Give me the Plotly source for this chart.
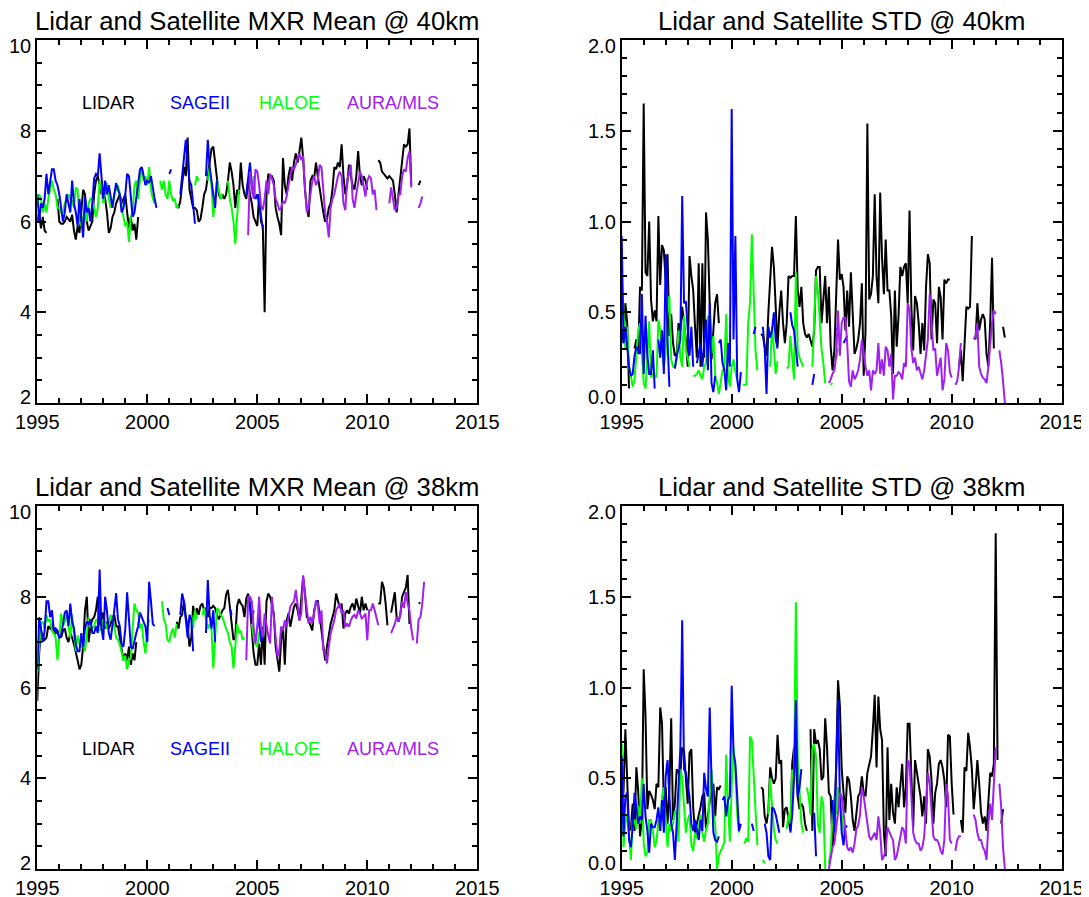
import plotly.graph_objects as go

N = None
# ---------------- categories / labels ----------------
instruments = ["LIDAR", "SAGEII", "HALOE", "AURA/MLS"]
inst_colors = ["#000000", "#0000FF", "#00FF00", "#A020F0"]
titles = ["Lidar and Satellite MXR Mean @ 40km", "Lidar and Satellite STD @ 40km",
          "Lidar and Satellite MXR Mean @ 38km", "Lidar and Satellite STD @ 38km"]
x_ticks = [1995, 2000, 2005, 2010, 2015]
mean_ticks = [2, 4, 6, 8, 10]
std_ticks = [0.0, 0.5, 1.0, 1.5, 2.0]

# series start (year, month) ; values are monthly
start_1995 = (1995, 1)
start_mls_m40 = (2004, 8)
start_mls_s = (2004, 6)
start_mls_m38 = (2004, 7)

# ================= MXR Mean @ 40km =================
lidar_m40 = [
 6.0, 6.2, 5.85, 6.1, 5.8, 5.75, N, N, N, N, N, 6.5,
 6.0, 5.95, 5.95, 6.0, 6.1, 6.05, 6.0, 6.15, 5.8, 5.6, 5.9, 5.75,
 6.3, 6.7, 6.6, 6.0, 5.8, 5.9, 6.0, 6.6, 6.9, 7.0, 6.8, 6.6,
 6.7, 6.5, 6.2, 5.75, 5.85, 6.1, 6.2, 6.4, 6.5, 6.6, 6.4, 6.5,
 6.6, 6.2, 5.85, 6.1, 5.8, 5.95, 5.6, 6.1, N, N, N, N,
 N, N, N, N, N, N, N, N, N, N, N, N,
 N, N, N, N, 6.35, 6.3, 6.45, 6.8, 7.2, 7.0, 7.85, 6.7,
 6.5, 6.3, 6.3, 6.25, 6.0, 6.05, 6.3, 6.6, 6.7, 7.0, 7.2, 7.6,
 7.65, 7.3, 6.9, 6.6, 6.5, 6.6, 6.5, 6.6, 6.9, 7.3, 7.1, 6.8,
 6.3, 6.7, 6.6, 7.3, 6.8, 6.6, 6.5, 6.9, 6.6, 6.4, 6.1, 6.0,
 5.9, 6.6, 6.0, 5.9, 4.0, 6.6, 7.05, 7.0, 7.0, 6.9, 6.3, 6.1,
 5.95, 5.7, 7.4, 6.8, 6.6, 7.0, 7.2, 6.9, 7.3, 7.5, 7.3, 7.55,
 7.85, 7.4, 6.7, 6.3, 6.1, 6.9, 7.0, 6.95, 7.3, 7.0, 6.7, 6.4,
 6.2, 6.0, 6.05, 6.3, 6.4, 6.7, 7.2, 7.15, 7.3, 7.2, 7.7, 7.0,
 6.6, 6.8, 7.25, 7.0, 6.8, 6.7, 7.0, 7.55, 7.0, 6.8, 7.0, 6.9,
 6.7, N, N, N, N, N, 7.35, 7.3, 7.1, 7.05, 7.0, 6.95,
 7.0, 6.95, 6.9, 6.6, 6.2, 6.6, 7.0, 7.45, 7.7, 7.65, 7.7, 8.05,
 6.8, N, N, N, 6.8, 6.9]
sage_m40 = [
 6.6, 6.0, 6.4, 6.3, 6.5, 7.05, 6.6, 6.9, 7.15, 7.15, 6.9, 6.8,
 6.6, 6.3, 6.0, 6.2, 6.6, 6.4, 6.2, 6.9, 6.4, 6.2, 5.9, 6.5,
 6.0, 5.65, 6.55, 6.2, 6.3, 6.0, 6.4, 6.95, 7.05, 7.0, 7.5, 6.9,
 6.5, 6.9, 6.6, 6.8, 6.5, 6.3, 6.6, 6.85, 6.7, 6.6, 6.2, 6.3,
 6.6, 7.05, 7.0, 6.6, 6.1, 6.2, 6.5, 6.9, 7.15, 7.2, 7.0, 6.8,
 6.9, 6.85, 7.0, 6.7, 6.5, 6.3, N, N, N, N, N, N,
 7.05, 7.15, N, N, N, N, 6.6, 7.0, 7.4, 7.8, 7.3, 6.9,
 6.8, 6.3, 5.95, N, N, N, N, N, 7.0, 7.8, 7.2, 6.9,
 6.6, 6.3, 6.9, N, N, N, N, N, N, N, N, N,
 N, N, N, N, N, N, 6.6, 7.0, 7.3, 6.8, 6.6, 6.5,
 6.6, 6.4, 6.1, 5.85]
haloe_m40 = [
 6.3, 6.6, 6.5, 6.2, 6.4, 6.2, 6.5, 6.7, 6.9, 6.7, 6.6, 6.3,
 6.3, 6.2, 6.2, 6.4, 6.5, 6.6, 6.5, 6.45, 6.3, 6.75, 6.7, 6.0,
 5.9, 6.1, 6.3, 6.0, 6.4, 6.5, 6.5, 6.3, 6.1, 6.3, 6.9, 6.7,
 6.4, 6.6, 6.85, 6.5, 6.3, 6.4, 6.6, 6.7, 6.8, 6.6, 6.3, 6.1,
 5.9, 6.0, 5.55, 6.1, 6.2, 6.8, 6.9, 6.5, 6.9, 7.2, 6.9, 7.0,
 6.8, 7.2, 6.7, 6.5, 6.4, N, N, 6.9, 6.7, 6.9, 6.6, 6.5,
 6.9, 6.6, 6.45, 6.5, 6.3, 6.35, N, N, N, N, N, N,
 N, N, 6.8, 7.0, 6.9, N, N, N, N, 6.9, 7.2, 6.8,
 6.1, 6.5, 6.9, 6.7, 6.5, 6.6, N, N, 6.9, 6.5, 6.3, 6.0,
 5.5, 6.2, 6.7, N, N, N, N, N, N, 6.6, 7.0, 6.6,
 6.5, 6.45]
mls_m40 = [
 5.7, 7.1, 6.85, 6.5, 7.15,
 7.1, 6.8, 6.35, 6.25, 6.5, 6.9, 6.6, 7.05, 6.95, 6.8, 6.5, 6.4,
 6.25, 6.3, 6.45, 6.4, 6.55, 6.8, 7.0, 7.2, 7.15, 7.25, 7.4, 7.5,
 7.35, 7.45, 6.75, 6.2, 6.3, 6.6, 6.9, 7.0, 6.8, 6.9, 7.25, 7.2,
 6.7, 6.2, 6.0, 5.65, 6.3, 6.5, 6.6, 6.8, 7.0, 7.1, 7.0, 6.4,
 6.25, 6.9, 7.05, 7.25, 6.5, 6.3, 6.6, 6.9, 7.1, 7.0, 6.8, 6.55,
 6.9, 7.0, 6.95, 6.6, 6.7, 6.25, N, N, N, N, N, N,
 6.4, 6.75, 6.5, 6.25, 6.3, 6.6, 6.6, 7.0, 7.15, 7.1, 7.4, 7.55,
 6.75, N, N, N, 6.3, 6.4, 6.55]

# ================= STD @ 40km =================
lidar_s40 = [
 0.4, 0.33, 0.55, 0.44, 0.08, N, N, 0.3, 0.35, 0.27, 0.64, 0.62,
 1.65, 0.72, 0.7, 1.0, 0.57, 0.45, 0.51, 0.45, 1.03, 0.65, 0.87, 0.84,
 0.67, 0.82, 0.37, 0.49, 0.33, 0.26, 0.27, 0.44, 0.4, 0.53, 0.45, 0.35,
 0.2, 0.81, 0.7, 0.62, 0.42, 0.25, 0.77, 0.2, 0.77, 0.25, 1.05, 0.9,
 0.55, 0.24, 0.4, 0.55, 0.6, 0.44, N, N, N, N, N, N,
 N, N, N, N, N, N, N, N, N, N, N, N,
 N, N, N, N, 0.38, 0.37, 0.31, 0.26, 0.5, 0.7, 0.86, 0.75,
 0.55, 0.31, 0.5, 0.62, 0.44, 0.33, 0.44, 0.7, 0.69, 0.7, 0.7, 1.03,
 0.62, 0.53, 0.64, 0.44, 0.38, 0.36, 0.38, 0.35, 0.31, 0.4, 0.73, 0.75,
 0.75, 0.44, 0.6, 0.7, 0.44, 0.64, 0.31, 0.18, 0.29, 0.55, 0.9, 0.68,
 0.71, 0.64, 0.4, 0.62, 0.42, 0.72, 0.44, 0.27, 0.3, 0.35, 0.44, 0.66,
 0.15, 0.4, 1.54, 0.57, 0.6, 0.7, 1.15, 0.7, 0.55, 1.16, 0.8, 0.6,
 0.9, 0.62, 0.62, 0.48, 0.16, 0.62, 0.31, 0.48, 0.75, 0.7, 0.75, 0.77,
 0.55, 1.06, 0.53, 0.29, 0.59, 0.55, 0.44, 0.27, 0.44, 0.29, 0.64, 0.82,
 0.77, 0.35, 0.57, 0.55, 0.33, 0.64, 0.58, 0.35, 0.68, 0.66, 0.68, 0.68,
 N, N, N, N, 0.2, 0.29, 0.12, 0.35, 0.53, 0.52, 0.53, 0.92,
 N, 0.35, 0.55, 0.4, 0.46, 0.49, 0.46, 0.27, 0.2, 0.44, 0.8, 0.3,
 N, N, N, N, 0.42, 0.36]
sage_s40 = [
 0.92, 0.33, 0.42, 0.3, 0.2, 0.15, 0.16, 0.26, 0.31, 0.29, 0.27, 0.6,
 0.16, 0.48, 0.26, 0.16, 0.16, 0.29, 0.08, N, 0.35, 0.25, 0.4, 0.16,
 0.82, 0.35, 0.09, N, N, 0.19, 0.26, 0.3, 0.35, 1.14, 0.55, 0.56,
 0.42, 0.26, 0.42, 0.2, N, 0.22, 0.27, 0.33, 0.2, 0.31, 0.46, 0.18,
 0.55, 0.11, 0.06, 0.15, N, 0.33, 0.35, 0.22, 0.18, 0.07, 0.33, 0.2,
 1.62, 0.35, 0.92, 0.13, 0.06, 0.17, N, N, N, N, N, N,
 0.38, 0.42, N, N, N, 0.42, 0.3, 0.05, 0.42, 0.36, 0.4, 0.5,
 0.35, 0.3, N, N, N, N, N, N, 0.5, 0.43, 0.4, 0.3,
 0.2, N, N, N, N, N, N, N, 0.1, 0.16, N, N,
 N, N, N, N, N, N, N, N, N, 0.4, 0.42, N,
 N, 0.33, 0.35, 0.37]
haloe_s40 = [
 0.69, 0.45, 0.3, 0.42, 0.2, 0.15, 0.09, 0.13, 0.27, 0.4, 0.44, 0.25,
 0.11, 0.08, 0.27, 0.45, 0.14, 0.16, 0.15, 0.14, 0.46, 0.4, 0.29, 0.2,
 0.27, 0.5, 0.59, 0.24, 0.2, 0.2, 0.24, 0.4, 0.25, 0.2, 0.48, 0.29,
 0.25, 0.2, N, 0.15, 0.15, 0.16, 0.18, 0.15, 0.13, 0.2, 0.22, 0.48,
 0.44, 0.27, 0.37, 0.15, 0.11, 0.05, 0.13, 0.18, 0.18, 0.49, 0.15, 0.09,
 0.2, 0.24, 0.17, 0.13, N, N, 0.1, 0.1, 0.1, 0.44, 0.55, 0.93,
 0.59, 0.29, 0.18, N, N, N, 0.0, N, N, 0.2, 0.42, 0.3,
 0.16, 0.23, N, N, N, N, 0.19, 0.2, 0.37, 0.25, 0.13, 0.72,
 0.29, 0.25, 0.22, 0.2, N, N, N, N, 0.2, 0.45, 0.7, 0.62,
 0.44, 0.3, 0.22, 0.11, N, N, 0.1, 0.11, N, 0.25, 0.3]
mls_s40 = [
 0.11, 0.13, 0.16, 0.18, 0.26, 0.51, 0.26,
 0.44, 0.47, 0.47, 0.33, 0.12, 0.09, 0.18, 0.13, 0.15, 0.18, 0.24, 0.35,
 0.27, 0.2, 0.15, 0.18, 0.07, 0.18, 0.16, 0.18, 0.33, 0.16, 0.24, 0.15,
 0.31, 0.29, 0.2, 0.27, 0.02, 0.15, 0.15, 0.17, 0.16, 0.13, 0.22, 0.2,
 0.55, 0.51, 0.3, 0.22, 0.25, 0.18, 0.2, 0.16, 0.13, 0.18, 0.27, 0.35,
 0.6, 0.44, 0.29, 0.3, 0.15, 0.2, 0.25, 0.07, 0.13, 0.33, 0.29, 0.17,
 0.14, N, 0.1, 0.12, 0.2, 0.33, N, N, N, N, N, N,
 0.35, 0.37, 0.44, 0.2, 0.16, 0.14, 0.13, 0.11, 0.2, 0.35, 0.44, 0.51,
 0.49, N, 0.29, 0.22, 0.12, 0.0]

# ================= MXR Mean @ 38km =================
lidar_m38 = [
 5.7, 6.75, 7.25, 7.1, 7.05, 7.1, 7.35, 7.3, 7.4, 7.25, 7.2, 7.25,
 7.15, 7.1, 7.25, 7.3, 7.1, 7.0, 7.2, 7.1, 6.95, 6.8, 6.6, 6.4,
 6.5, 6.9, 7.7, 8.0, 7.0, 7.35, 7.5, 7.55, 7.7, 8.0, 7.35, 7.5,
 7.65, 7.3, 7.45, 7.3, 7.4, 7.55, 7.6, 7.35, 7.35, 7.1, 6.8, 6.6,
 6.75, 6.6, 6.9, 6.5, 6.75, 6.6, 7.0, N, N, N, N, N,
 N, N, N, N, N, N, N, N, N, N, N, N,
 N, N, N, N, 7.45, 7.3, 7.55, 7.6, 7.9, 7.55, 7.35, 6.9,
 7.1, 7.8, 7.55, 7.75, 7.6, 7.8, 7.85, 7.7, 7.75, 7.55, 7.75, 7.75,
 7.8, 7.75, 7.6, 7.5, 7.6, 7.7, 7.75, 8.05, 8.15, 7.75, 7.3, 7.05,
 7.1, 7.8, 7.95, 7.85, 7.8, 7.55, 7.96, 8.07, 7.78, 7.33, 6.75, 6.5,
 6.5, 6.97, 6.5, 7.34, 6.5, 7.9, 8.07, 8.0, 7.8, 7.63, 6.9, 6.6,
 6.35, 7.04, 7.34, 6.5, 7.48, 7.63, 7.34, 7.56, 7.78, 7.85, 7.7, 7.48,
 7.92, 8.44, 8.07, 7.56, 7.48, 7.34, 7.26, 7.7, 7.85, 7.92, 7.56, 7.2,
 6.9, 6.6, 6.9, 7.2, 7.4, 7.55, 7.7, 8.07, 7.9, 7.75, 7.85, 7.3,
 7.63, 7.7, 7.63, 7.78, 7.85, 7.7, 7.96, 7.78, 7.63, 8.0, 7.7, 7.85,
 7.7, N, N, N, N, N, 7.85, 7.85, 8.33, 8.2, 7.85, 7.37,
 N, 7.65, 7.85, 8.1, 7.55, 7.45, 7.6, 8.0, 8.1, 8.2, 8.48, 7.4,
 N, N, N, N, 7.87, 7.85]
sage_m38 = [
 6.4, 7.55, 7.3, 7.0, 7.25, 7.9, 7.9, 7.55, 7.7, 7.25, 7.3, 7.2,
 7.1, 7.15, 7.4, 7.65, 7.7, 7.35, 7.85, 7.45, 7.3, 6.95, 6.8, 6.8,
 7.2, 6.9, 7.3, 7.45, 7.4, 7.5, 7.2, 7.2, 7.35, 7.2, 8.6, 7.3,
 7.05, 8.0, 7.7, 7.2, 7.05, 7.35, 7.7, 8.08, 7.5, 7.35, 6.95, 6.9,
 7.3, 8.1, 7.6, 6.9, 6.85, 7.05, 7.2, 7.35, 7.65, 7.55, 7.45, 7.34,
 7.0, 8.33, 7.9, 7.4, 7.35, N, N, N, N, N, N, 7.75,
 7.6, N, N, N, N, N, 7.6, 8.07, 7.9, 7.4, 7.1, 7.6,
 7.5, 6.8, N, N, N, N, N, N, 7.2, 8.37, 7.6, 7.3,
 7.7, 7.0, N, N, N, N, N, N, N, 7.75, 7.6, N,
 N, N, N, N, N, N, N, N, 7.9, 7.5, 7.7, N,
 7.3, 7.6, 7.0, 7.2]
haloe_m38 = [
 6.35, 7.0, 7.4, 7.45, 7.3, 7.6, 7.45, 7.5, 7.25, 7.2, 7.1, 6.6,
 7.1, 7.63, 7.35, 7.45, 7.6, 7.3, 7.1, 7.6, 7.25, 6.8, 7.15, 6.95,
 6.9, 6.95, 6.8, 7.25, 7.55, 7.35, 7.3, 7.35, 7.5, 7.45, 7.25, 7.3,
 7.5, 7.45, 7.3, 7.4, 7.6, 7.5, 7.35, 7.1, 7.05, 6.95, 6.8, 6.6,
 6.7, 6.4, 6.6, 6.65, 7.3, 7.85, 7.7, 7.65, 7.3, 7.4, 7.0, 6.75,
 7.3, 7.5, N, N, N, N, N, N, 7.9, 7.5, 7.4, 7.05,
 7.0, 7.2, 7.3, 7.1, 7.4, N, N, N, N, N, N, N,
 7.6, 7.3, 7.7, 7.5, N, N, 7.6, 7.75, 7.5, 7.3, 7.4, 7.3,
 6.42, 7.0, 7.75, 7.7, 7.6, 7.55, 7.4, 7.3, 7.2, 7.0, 6.9, 6.42,
 6.9, 7.4, 7.2, 7.25, 7.05, 7.1, N, N, N, 7.4, 7.1, 6.95,
 6.9, 7.2, 7.3]
mls_m38 = [
 6.6, 8.0, 8.0, 7.9, 7.33, 6.97,
 7.33, 8.0, 7.33, 7.1, 7.63, 7.33, 7.15, 6.97, 8.0, 7.56, 7.19, 6.68,
 6.82, 7.34, 7.26, 7.48, 7.34, 7.56, 7.78, 7.85, 7.9, 8.15, 7.85, 7.48,
 7.63, 8.47, 8.07, 7.78, 7.41, 7.56, 7.41, 7.63, 7.92, 7.85, 7.41, 7.7,
 6.82, 6.75, 6.53, 6.9, 7.19, 7.34, 7.48, 7.7, 7.78, 7.85, 7.63, 7.7,
 7.33, 7.41, 7.34, 7.48, 7.56, 7.6, 7.52, 7.7, 7.63, 7.52, 7.56, 7.63,
 7.04, 7.7, 7.7, 7.85, 7.7, 7.55, 7.37, N, N, N, N, N,
 N, 7.2, 7.3, 7.4, 7.55, 7.45, 7.6, 7.9, 7.75, 8.1, 7.85, 7.7,
 7.3, 7.04, N, 6.97, 7.5, 7.55, 7.85, 8.33]

# ================= STD @ 38km =================
lidar_s38 = [
 0.3, 0.43, 0.77, 0.47, 0.21, 0.22, 0.36, 0.21, 0.56, 0.43, 0.18, 0.27,
 1.1, 0.84, 0.33, 0.43, 0.41, 0.38, 0.33, 0.47, 0.45, 0.89, 0.8, 0.34,
 0.45, 0.25, 0.43, 0.83, 0.27, 0.36, 0.55, 0.53, 0.53, 0.67, 0.65, 0.5,
 0.36, 0.64, 0.66, 0.34, 0.2, 0.25, 0.29, 0.34, 0.4, 0.42, 0.21, 0.29,
 0.38, 0.45, 0.47, 0.29, 0.45, 0.44, 0.46, N, N, N, N, N,
 N, N, N, N, N, N, N, N, N, N, N, N,
 N, N, N, N, 0.45, 0.44, 0.29, 0.25, 0.32, 0.56, 0.5, 0.47,
 0.5, 0.74, 0.58, 0.6, 0.23, 0.33, 0.34, 0.27, 0.21, 0.58, 0.67, 0.6,
 0.4, 0.33, 0.36, 0.34, 0.25, 0.21, N, 0.77, 0.21, 0.77, 0.69, 0.71,
 0.66, 0.49, 0.51, 0.83, 0.67, 0.42, 0.4, 0.12, 0.25, 0.58, 1.04, 0.9,
 0.55, 0.42, 0.31, 0.51, 0.49, 0.4, 0.27, 0.21, 0.29, 0.4, 0.42, 0.51,
 0.42, 0.4, 0.53, 0.58, 0.62, 0.77, 0.96, 0.56, 0.95, 0.77, 0.71, 0.2,
 0.07, 0.67, 0.27, 0.47, 0.31, 0.25, 0.45, 0.34, 0.47, 0.58, 0.34, 0.45,
 0.8, 0.8, 0.51, 0.23, 0.6, 0.53, 0.47, 0.4, 0.29, 0.4, 0.25, 0.66,
 0.62, 0.49, 0.25, 0.42, 0.47, 0.58, 0.6, 0.56, 0.49, 0.34, 0.74, 0.73,
 0.47, 0.3, N, N, N, 0.27, 0.2, 0.56, 0.54, 0.75, 0.67, 0.55,
 0.33, 0.45, 0.6, 0.47, 0.31, 0.25, 0.29, 0.21, 0.38, 0.53, 0.51, 0.58,
 1.85, 0.6, N, 0.25, 0.33]
sage_s38 = [
 0.62, 0.18, 0.4, 0.42, 0.16, 0.12, 0.23, 0.42, 0.34, 0.25, 0.29, 0.27,
 0.47, 0.29, 0.21, 0.09, 0.25, 0.23, 0.23, 0.27, 0.34, 0.21, 0.38, 0.2,
 0.51, 0.6, 0.4, 0.25, 0.2, 0.05, 0.25, 0.49, 0.67, 1.37, 0.55, 0.53,
 0.47, 0.4, 0.25, 0.21, 0.27, 0.21, 0.16, 0.27, 0.21, 0.53, 0.44, 0.4,
 0.89, 0.49, 0.2, 0.16, 0.15, 0.18, N, 0.38, 0.4, 0.29, 0.38, 0.4,
 1.01, 0.64, 0.58, 0.4, 0.21, 0.25, N, N, N, N, N, 0.25,
 0.21, N, N, N, N, N, 0.25, 0.2, 0.07, 0.05, 0.34, 0.33,
 0.3, 0.25, 0.2, N, N, N, N, N, 0.2, 0.3, 0.5, 0.93,
 0.4, 0.45, 0.55, N, N, N, N, N, N, 0.31, 0.07, N,
 N, N, N, N, N, N, N, 0.38, 0.2, 0.56, 0.93, 0.4,
 0.2, 0.13, 0.24, 0.23]
haloe_s38 = [
 0.69, 0.12, 0.25, 0.3, 0.2, 0.05, 0.27, 0.27, 0.22, 0.35, 0.25, 0.5,
 0.14, 0.07, 0.09, 0.27, 0.27, 0.21, 0.12, 0.15, 0.27, 0.21, 0.4, 0.45,
 0.27, 0.12, 0.25, 0.21, 0.25, 0.32, 0.3, 0.15, 0.55, 0.5, 0.35, 0.2,
 0.27, 0.3, 0.13, 0.1, 0.2, 0.17, 0.23, 0.3, 0.2, 0.15, 0.22, 0.25,
 0.4, 0.55, 0.3, 0.25, 0.0, 0.07, 0.1, 0.12, 0.15, 0.63, 0.35, 0.15,
 0.45, 0.67, 0.55, 0.3, 0.2, N, N, 0.14, 0.17, 0.15, 0.73, 0.71,
 0.49, 0.3, 0.13, N, N, 0.05, 0.03, N, 0.3, 0.5, 0.35, 0.22,
 0.16, 0.14, N, N, N, N, 0.22, 0.3, 0.25, 0.55, 0.5, 1.47,
 0.62, 0.44, 0.25, 0.2, N, 0.45, 0.4, 0.3, 0.66, 0.69, 0.62, 0.25,
 0.2, 0.4, 0.35, 0.0, N, 0.03, 0.1, 0.3, 0.4, 0.3, 0.45, 0.36,
 0.3, 0.2]
mls_s38 = [
 0.0, 0.07, 0.12, 0.14, 0.22, 0.31, 0.42,
 0.4, 0.31, 0.23, 0.12, 0.1, 0.12, 0.09, 0.14, 0.22, 0.24, 0.3, 0.45,
 0.4, 0.33, 0.27, 0.18, 0.16, 0.18, 0.2, 0.16, 0.29, 0.2, 0.05, 0.07,
 0.1, 0.23, 0.2, 0.18, 0.16, 0.05, 0.07, 0.12, 0.16, 0.23, 0.21, 0.14,
 0.6, 0.58, 0.4, 0.2, 0.16, 0.14, 0.14, 0.1, 0.12, 0.18, 0.35, 0.53,
 0.47, 0.32, 0.18, 0.16, 0.16, 0.14, 0.1, 0.08, 0.16, 0.47, 0.4, 0.16,
 0.14, N, 0.1, 0.16, 0.18, 0.18, N, N, N, N, N, N,
 0.3, 0.27, 0.2, 0.16, 0.16, 0.12, 0.1, 0.05, 0.25, 0.36, 0.27, 0.44,
 0.67, N, 0.47, 0.34, 0.12, 0.0]

# legend-label anchor positions (data coords)
legend_years = [1998.25, 2002.39, 2006.45, 2011.19]
legend_y_top = 8.62
legend_y_bottom = 4.64

# ---------------- layout geometry ----------------
W, H = 1089, 897
PAGE_OFF = 8  # default body margin of the html page
col_px = [(37.3, 477.3), (621.7, 1061.7)]
row_px = [(40.0, 403.0), (506.0, 869.0)]


def xdom(c):
    return [(col_px[c][0] - PAGE_OFF) / W, (col_px[c][1] - PAGE_OFF) / W]


def ydom(r):
    return [1 - (row_px[r][1] - PAGE_OFF) / H, 1 - (row_px[r][0] - PAGE_OFF) / H]


def monthly_x(start, n):
    y0, m0 = start
    return [y0 + (m0 - 1 + i) / 12.0 for i in range(n)]


FONT = "Liberation Sans, Arial, Helvetica, sans-serif"

fig = go.Figure()

panels = [
    ("", 0, 0, [(lidar_m40, start_1995), (haloe_m40, start_1995), (sage_m40, start_1995), (mls_m40, start_mls_m40)], False),
    ("2", 0, 1, [(lidar_s40, start_1995), (haloe_s40, start_1995), (sage_s40, start_1995), (mls_s40, start_mls_s)], True),
    ("3", 1, 0, [(lidar_m38, start_1995), (haloe_m38, start_1995), (sage_m38, start_1995), (mls_m38, start_mls_m38)], False),
    ("4", 1, 1, [(lidar_s38, start_1995), (haloe_s38, start_1995), (sage_s38, start_1995), (mls_s38, start_mls_s)], True),
]
series_colors = [inst_colors[0], inst_colors[2], inst_colors[1], inst_colors[3]]

layout = dict(width=W, height=H, margin=dict(l=0, r=0, t=0, b=0),
              paper_bgcolor="white", plot_bgcolor="white", showlegend=False,
              font=dict(family=FONT, color="black"))
annotations = []

for k, (suf, r, c, series, is_std) in enumerate(panels):
    xa, ya = "x" + suf, "y" + suf
    for (vals, st), col in zip(series, series_colors):
        fig.add_trace(go.Scatter(x=monthly_x(st, len(vals)), y=vals, mode="lines",
                                 line=dict(color=col, width=2), connectgaps=False,
                                 xaxis=xa, yaxis=ya, hoverinfo="skip"))
    common = dict(ticks="inside", ticklen=9, tickwidth=1.5, tickcolor="black",
                  showline=True, linecolor="black", linewidth=2, mirror="ticks",
                  showgrid=False, zeroline=False, automargin=False,
                  tickfont=dict(family=FONT, size=20, color="black"))
    layout["xaxis" + suf] = dict(domain=xdom(c), anchor=ya, range=[1995, 2015],
                                 tickmode="array", tickvals=x_ticks,
                                 ticktext=[str(v) for v in x_ticks],
                                 minor=dict(tickmode="linear", tick0=1995, dtick=1, ticks="inside",
                                            ticklen=5, tickwidth=1.5, tickcolor="black", showgrid=False),
                                 **common)
    if is_std:
        yv, yr, ytxt, mdt = std_ticks, [0, 2], ["%.1f" % v for v in std_ticks], 0.1
    else:
        yv, yr, ytxt, mdt = mean_ticks, [2, 10], [str(v) for v in mean_ticks], 0.5
    layout["yaxis" + suf] = dict(domain=ydom(r), anchor=xa, range=yr, tickmode="array",
                                 tickvals=yv, ticktext=ytxt, showticklabels=False,
                                 minor=dict(tickmode="linear", tick0=yr[0], dtick=mdt, ticks="inside",
                                            ticklen=5, tickwidth=1.5, tickcolor="black", showgrid=False),
                                 **common)
    # y tick labels, IDL style: end labels kept inside the axis span
    for i, (v, t) in enumerate(zip(yv, ytxt)):
        ysh = -6 if i == len(yv) - 1 else (6 if i == 0 else 0)
        annotations.append(dict(text=t, x=0, y=v, xref=xa + " domain", yref=ya,
                                xanchor="right", yanchor="middle", xshift=-4, yshift=ysh,
                                showarrow=False, font=dict(family=FONT, size=20, color="black")))
    # title
    cx = ((col_px[c][0] + col_px[c][1]) / 2 - PAGE_OFF) / W
    ty = 1 - ((21.0 if r == 0 else 487.0) - PAGE_OFF) / H
    annotations.append(dict(text=titles[k], x=cx, y=ty, xref="paper", yref="paper",
                            xanchor="center", yanchor="middle", showarrow=False,
                            font=dict(family=FONT, size=25.7, color="black")))
    # in-panel instrument labels on mean panels
    if not is_std:
        ly = legend_y_top if r == 0 else legend_y_bottom
        for name, col, lx in zip(instruments, inst_colors, legend_years):
            annotations.append(dict(text=name, x=lx, y=ly, xref=xa, yref=ya,
                                    xanchor="center", yanchor="middle", showarrow=False,
                                    font=dict(family=FONT, size=18, color=col)))

layout["annotations"] = annotations
fig.update_layout(**layout)
fig.write_html("out.html")
